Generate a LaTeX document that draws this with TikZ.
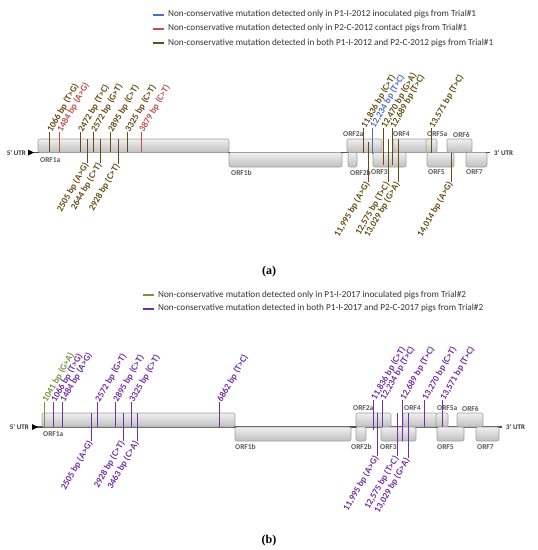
\documentclass[tikz,border=0pt]{standalone}
\usepackage{fontspec}
\setmainfont{Carlito}
\newfontfamily\capfont{Liberation Serif}
\definecolor{mbrown}{RGB}{102,76,20}
\definecolor{mred}{RGB}{192,80,77}
\definecolor{mblue}{RGB}{80,110,200}
\definecolor{mgreen}{RGB}{119,147,60}
\definecolor{mpurple}{RGB}{112,48,160}
\definecolor{gline}{RGB}{80,80,80}
\tikzset{
  orf/.style={draw=gray!75, line width=0.6pt, rounded corners=2pt, top color=gray!12, bottom color=gray!50},
  orflab/.style={font=\bfseries\fontsize{7.5}{8}\selectfont, text=gray!70!black, inner sep=0pt, anchor=west},
  utr/.style={font=\bfseries\fontsize{7}{8}\selectfont, text=black!80, inner sep=0pt},
  mutlab/.style={font=\bfseries\fontsize{9.2}{10}\selectfont, rotate=60, inner sep=1pt},
  mut/.style={line width=0.9pt},
  keyline/.style={line width=2pt},
  keytext/.style={font=\fontsize{9.2}{10}\selectfont, text=black!80, inner sep=0pt, anchor=west},
  genome/.style={gline, line width=1.5pt}
}
\begin{document}
\begin{tikzpicture}[x=1pt,y=-1pt]
\useasboundingbox (0,0) rectangle (538,550);
% ---- legend (a)
\foreach \y/\c/\t [count=\i] in {14.5/mblue/{Non-conservative mutation detected only in P1-I-2012 inoculated pigs from Trial\#1},
  28.5/mred/{Non-conservative mutation detected only in P2-C-2012 contact pigs from Trial\#1},
  43/mbrown/{Non-conservative mutation detected in both P1-I-2012 and P2-C-2012 pigs from Trial\#1}}{
  \node[keytext] (keya\i) at (168,\y) {\t};
  \coordinate (kla\i) at (153,\y);
  \draw[keyline,\c] (kla\i) -- ([xshift=-4pt]keya\i.west);
}
% ---- genome (a)
\draw[genome] (31,152.5) -- (490,152.5);
\fill[black] (28,149.5) -- (34,152.5) -- (28,155.5) -- cycle;
\node[utr,anchor=east] (utr5a) at (26,152.5) {5' UTR};
\node[utr,anchor=west] (utr3a) at (494,152.5) {3' UTR};
\draw[orf] (38,139) rectangle (229,152.5);
\draw[orf] (347,139) rectangle (382,152.5);
\draw[orf] (393,139) rectangle (433,152.5);
\draw[orf] (426,139) rectangle (437,152.5);
\draw[orf] (447,139) rectangle (472,152.5);
\draw[orf] (229,152.5) rectangle (342,167);
\draw[orf] (348,152.5) rectangle (357,167);
\draw[orf] (373,152.5) rectangle (406,167);
\draw[orf] (427,152.5) rectangle (454,167);
\draw[orf] (466,152.5) rectangle (487,167);
\node[orflab] (o1a) at (40,160) {ORF1a};
\node[orflab] (o1b) at (231,172.5) {ORF1b};
\node[orflab] (o2a) at (343,134.5) {ORF2a};
\node[orflab] (o4) at (393,134.5) {ORF4};
\node[orflab] (o5a) at (427,134.5) {ORF5a};
\node[orflab] (o6) at (453,134.5) {ORF6};
\node[orflab] (o2b) at (350,172.5) {ORF2b};
\node[orflab] (o3) at (371,172.5) {ORF3};
\node[orflab] (o5) at (428,172.5) {ORF5};
\node[orflab] (o7) at (466,172.5) {ORF7};
% mutations above
\foreach \x/\y/\e/\t/\c [count=\i] in {49/132/152/{1066 bp (T>G)}/mbrown, 59/132/152/{1484 bp (A>G)}/mred,
  80/132/152/{2472 bp (T>C)}/mbrown, 93/132/152/{2572 bp (G>T)}/mbrown, 110/132/152/{2895 bp (C>T)}/mbrown,
  127/132/152/{3325 bp (C>T)}/mbrown, 141/132/152/{3879 bp (C>T)}/mred,
  363/128/153/{11,836 bp (C>T)}/mbrown, 372/128/154/{12,234 bp (T>C)}/mblue, 383/128/165/{12,470 bp (G>A)}/mbrown,
  392/128/165/{12,689 bp (T>C)}/mbrown, 431/128/153/{13,571 bp (T>C)}/mbrown}{
  \node[mutlab,anchor=west,text=\c] (ta\i) at (\x,\y) {\t};
  \coordinate (ea\i) at (\x,\e);
  \draw[mut,\c] (ta\i.west) -- (ea\i);
}
% mutations below
\foreach \x/\s/\y/\t/\c [count=\i] in {87/139/163/{2505 bp (A>G)}/mbrown, 100/139/163/{2644 bp (C>T)}/mbrown,
  118/139/164/{2928 bp (C>T)}/mbrown, 368/142/182/{11,995 bp (A>G)}/mbrown, 388/139/182/{12,575 bp (T>C)}/mbrown,
  398/139/182/{13,029 bp (G>A)}/mbrown, 451/153/182/{14,014 bp (A>G)}/mbrown}{
  \node[mutlab,anchor=east,text=\c] (ba\i) at (\x,\y) {\t};
  \coordinate (sa\i) at (\x,\s);
  \draw[mut,\c] (sa\i) -- (ba\i.east);
}
\node[font=\capfont\bfseries\fontsize{12}{14}\selectfont] (capa) at (269,272) {(a)};
% ---- legend (b)
\foreach \y/\c/\t [count=\i] in {295/mgreen/{Non-conservative mutation detected only in P1-I-2017 inoculated pigs from Trial\#2},
  308.5/mpurple/{Non-conservative mutation detected in both P1-I-2017 and P2-C-2017 pigs from Trial\#2}}{
  \node[keytext] (keyb\i) at (158,\y) {\t};
  \coordinate (klb\i) at (143,\y);
  \draw[keyline,\c] (klb\i) -- ([xshift=-4pt]keyb\i.west);
}
% ---- genome (b)
\draw[genome] (35,427) -- (502,427);
\fill[black] (32,424) -- (38,427) -- (32,430) -- cycle;
\node[utr,anchor=east] (utr5b) at (29,427) {5' UTR};
\node[utr,anchor=west] (utr3b) at (506,427) {3' UTR};
\draw[orf] (42,413) rectangle (235,427);
\draw[orf] (356,413) rectangle (391,427);
\draw[orf] (403,413) rectangle (437,427);
\draw[orf] (436,413) rectangle (448,427);
\draw[orf] (457,413) rectangle (483,427);
\draw[orf] (235,427) rectangle (351,441);
\draw[orf] (356,427) rectangle (366,441);
\draw[orf] (381,427) rectangle (416,441);
\draw[orf] (437,427) rectangle (464,441);
\draw[orf] (476,427) rectangle (499,441);
\node[orflab] (p1a) at (43,434) {ORF1a};
\node[orflab] (p1b) at (235,447) {ORF1b};
\node[orflab] (p2a) at (353,408.5) {ORF2a};
\node[orflab] (p4) at (404,408.5) {ORF4};
\node[orflab] (p5a) at (437,408.5) {ORF5a};
\node[orflab] (p6) at (462,408.5) {ORF6};
\node[orflab] (p2b) at (351,447) {ORF2b};
\node[orflab] (p3) at (380,447) {ORF3};
\node[orflab] (p5) at (437,447) {ORF5};
\node[orflab] (p7) at (477,447) {ORF7};
% mutations above
\foreach \x/\y/\e/\t/\c [count=\i] in {44/402/427/{1041 bp (G>A)}/mgreen, 53/402/427/{1066 bp (T>G)}/mpurple,
  62/402/427/{1484 bp (A>G)}/mpurple, 97/402/427/{2572 bp (G>T)}/mpurple, 115/402/427/{2895 bp (C>T)}/mpurple,
  131/402/427/{3325 bp (C>T)}/mpurple, 219/402/427/{6862 bp (T>C)}/mpurple,
  373/400/430/{11,836 bp (C>T)}/mpurple, 382/400/427/{12,234 bp (T>C)}/mpurple, 402/400/441/{12,689 bp (T>C)}/mpurple,
  424/400/427/{13,270 bp (C>T)}/mpurple, 442/400/427/{13,571 bp (T>C)}/mpurple}{
  \node[mutlab,anchor=west,text=\c] (tb\i) at (\x,\y) {\t};
  \coordinate (eb\i) at (\x,\e);
  \draw[mut,\c] (tb\i.west) -- (eb\i);
}
% mutations below
\foreach \x/\s/\y/\t/\c [count=\i] in {91/413/441/{2505 bp (A>G)}/mpurple, 123/413/441/{2928 bp (C>T)}/mpurple,
  137/413/441/{3463 bp (C>A)}/mpurple, 377/413/456/{11,995 bp (A>G)}/mpurple,
  397/413/456/{12,575 bp (T>C)}/mpurple, 408/413/458/{13,029 bp (G>A)}/mpurple}{
  \node[mutlab,anchor=east,text=\c] (bb\i) at (\x,\y) {\t};
  \coordinate (sb\i) at (\x,\s);
  \draw[mut,\c] (sb\i) -- (bb\i.east);
}
\node[font=\capfont\bfseries\fontsize{12}{14}\selectfont] (capb) at (269,541) {(b)};
\end{tikzpicture}
\end{document}
